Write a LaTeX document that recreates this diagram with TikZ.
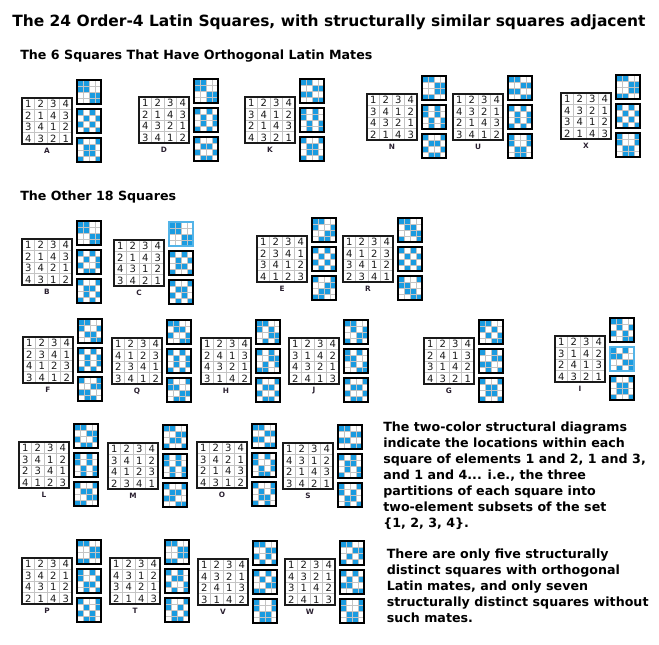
\documentclass[tikz,border=0pt]{standalone}
\usepackage{fontspec}
\setmainfont{DejaVu Sans}
\usepackage{tikz}
\usetikzlibrary{positioning}
\definecolor{cell}{HTML}{1A9BE0}
\definecolor{grd}{HTML}{C4C4C4}
\definecolor{ink}{HTML}{1A1A1A}
\definecolor{lab}{HTML}{2A2030}

\tikzset{
  sqframe/.style={draw=ink,line width=1.9pt},
  sqgrid/.style={draw=grd,line width=0.6pt},
  miniframe/.style={draw=black,line width=1.7pt},
  digit/.style={font=\fontsize{7.5}{8}\selectfont,text=ink,inner sep=0pt},
  sqlabel/.style={font=\fontsize{5.5}{6}\selectfont\bfseries,text=lab,inner sep=0pt},
  headtext/.style={font=\fontsize{9.5}{12}\selectfont\bfseries,inner sep=0pt,anchor=base west},
  notetext/.style={font=\fontsize{9.5}{12}\selectfont\bfseries,align=left,inner sep=0pt,anchor=north west},
}

% \latinsq[blue framed mini]{label}{left}{top}{rows}
\newcommand\latinsq[5][9]{%
  \begin{scope}[shift={(#3,#4)}]
    % cells of 1&2, 1&3, 1&4
    \foreach \row [count=\r from 0] in {#5} {
      \foreach \d [count=\c from 0] in \row {
        \ifnum\d=1
          \foreach \m in {0,1,2}
            \fill[cell] ({55+6*\c},{-18+29*\m+6*\r}) rectangle +(6,6);
        \else
          \pgfmathtruncatemacro\m{\d-2}
          \fill[cell] ({55+6*\c},{-18+29*\m+6*\r}) rectangle +(6,6);
        \fi
        \node[digit] (#2-\r-\c) at ({12.5*\c+6.25},{11.5*\r+6}) {\d};
      }
    }
    \foreach \i in {1,2,3} {
      \draw[sqgrid] ({12.5*\i},0) -- ({12.5*\i},46);
      \draw[sqgrid] (0,{11.5*\i}) -- (50,{11.5*\i});
      \foreach \m in {0,1,2} {
        \draw[sqgrid] ({55+6*\i},{-18+29*\m}) -- +(0,24);
        \draw[sqgrid] (55,{-18+29*\m+6*\i}) -- +(24,0);
      }
    }
    \draw[sqframe] (0,0) rectangle (50,46);
    \foreach \m in {0,1,2} {
      \ifnum\m=#1
        \draw[miniframe,draw=cell!75] (55,{-18+29*\m}) rectangle +(24,24);
      \else
        \draw[miniframe] (55,{-18+29*\m}) rectangle +(24,24);
      \fi
    }
    \node[sqlabel] (lab#2) at (25,53) {#2};
  \end{scope}}

\begin{document}
\begin{tikzpicture}[x=0.75pt,y=-0.75pt]
  \useasboundingbox (0,0) rectangle (659,644);
  % HEADINGS
  \node[font=\fontsize{11.6}{14}\selectfont\bfseries,inner sep=0pt,anchor=base west]
    (title) at (12,26) {The 24 Order-4 Latin Squares, with structurally similar squares adjacent};
  \node[headtext] (hdmates) at (20,59) {The 6 Squares That Have Orthogonal Latin Mates};
  \node[headtext] (hdother) at (20,200) {The Other 18 Squares};

  % SQUARES WITH MATES
  \latinsq{A}{22}{98}{{1,2,3,4},{2,1,4,3},{3,4,1,2},{4,3,2,1}}
  \latinsq{D}{139}{97}{{1,2,3,4},{2,1,4,3},{4,3,2,1},{3,4,1,2}}
  \latinsq{K}{245}{97}{{1,2,3,4},{3,4,1,2},{2,1,4,3},{4,3,2,1}}
  \latinsq{N}{367}{94}{{1,2,3,4},{3,4,1,2},{4,3,2,1},{2,1,4,3}}
  \latinsq{U}{453}{94}{{1,2,3,4},{4,3,2,1},{2,1,4,3},{3,4,1,2}}
  \latinsq{X}{561}{93}{{1,2,3,4},{4,3,2,1},{3,4,1,2},{2,1,4,3}}

  % THE OTHER 18
  \latinsq{B}{22}{239}{{1,2,3,4},{2,1,4,3},{3,4,2,1},{4,3,1,2}}
  \latinsq[0]{C}{114}{240}{{1,2,3,4},{2,1,4,3},{4,3,1,2},{3,4,2,1}}
  \latinsq{E}{257}{236}{{1,2,3,4},{2,3,4,1},{3,4,1,2},{4,1,2,3}}
  \latinsq{R}{343}{236}{{1,2,3,4},{4,1,2,3},{3,4,1,2},{2,3,4,1}}

  \latinsq{F}{23}{337}{{1,2,3,4},{2,3,4,1},{4,1,2,3},{3,4,1,2}}
  \latinsq{Q}{112}{338}{{1,2,3,4},{4,1,2,3},{2,3,4,1},{3,4,1,2}}
  \latinsq{H}{201}{338}{{1,2,3,4},{2,4,1,3},{4,3,2,1},{3,1,4,2}}
  \latinsq{J}{289}{338}{{1,2,3,4},{3,1,4,2},{4,3,2,1},{2,4,1,3}}
  \latinsq{G}{424}{338}{{1,2,3,4},{2,4,1,3},{3,1,4,2},{4,3,2,1}}
  \latinsq[1]{I}{555}{336}{{1,2,3,4},{3,1,4,2},{2,4,1,3},{4,3,2,1}}

  \latinsq{L}{19}{442}{{1,2,3,4},{3,4,1,2},{2,3,4,1},{4,1,2,3}}
  \latinsq{M}{108}{443}{{1,2,3,4},{3,4,1,2},{4,1,2,3},{2,3,4,1}}
  \latinsq{O}{197}{442}{{1,2,3,4},{3,4,2,1},{2,1,4,3},{4,3,1,2}}
  \latinsq{S}{283}{443}{{1,2,3,4},{4,3,1,2},{2,1,4,3},{3,4,2,1}}

  \latinsq{P}{22}{558}{{1,2,3,4},{3,4,2,1},{4,3,1,2},{2,1,4,3}}
  \latinsq{T}{110}{558}{{1,2,3,4},{4,3,1,2},{3,4,2,1},{2,1,4,3}}
  \latinsq{V}{198}{559}{{1,2,3,4},{4,3,2,1},{2,4,1,3},{3,1,4,2}}
  \latinsq{W}{285}{559}{{1,2,3,4},{4,3,2,1},{3,1,4,2},{2,4,1,3}}

  % NOTES
  \node[notetext] (note) at (383,421.5) {The two-color structural diagrams\\
    indicate the locations within each\\
    square of elements 1 and 2, 1 and 3,\\
    and 1 and 4... i.e., the three\\
    partitions of each square into\\
    two-element subsets of the set\\
    \{1, 2, 3, 4\}.};
  \node[notetext] (note2) at (386.5,548.5) {There are only five structurally\\
    distinct squares with orthogonal\\
    Latin mates, and only seven\\
    structurally distinct squares without\\
    such mates.};
\end{tikzpicture}
\end{document}
